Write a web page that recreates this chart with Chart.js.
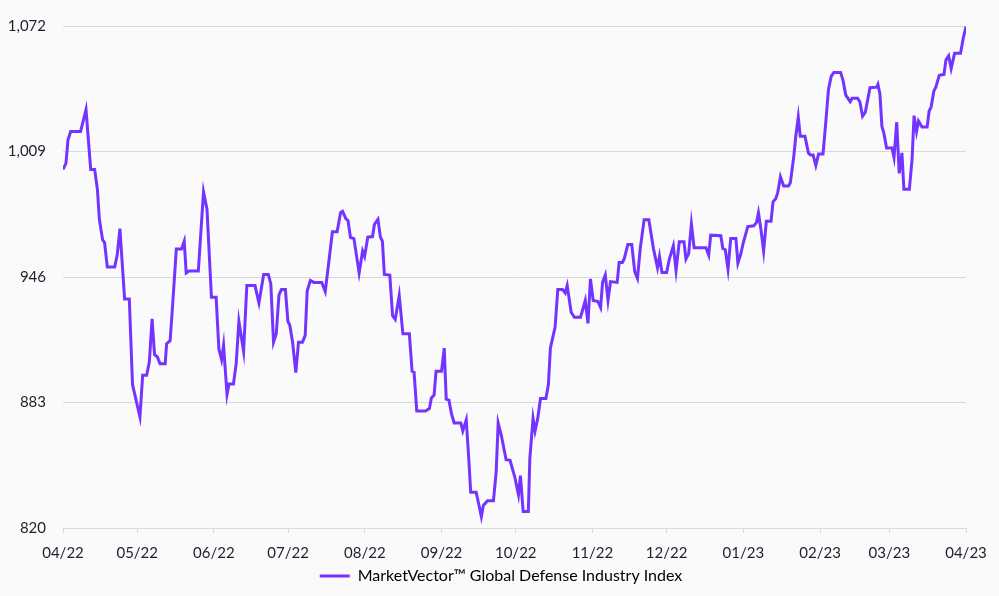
<!DOCTYPE html>
<html>
<head>
<meta charset="utf-8">
<script src="https://cdn.jsdelivr.net/npm/chart.js@4"></script>
<style>
  html, body { margin: 0; padding: 0; background: #fafafa; }
  #wrap { width: 999px; height: 596px; }
</style>
</head>
<body>
<div id="wrap"><canvas id="chart"></canvas></div>
<script>
// day offsets from 2022-04-01 and index level
const days = [
  0, 1.2, 2.0, 3.1, 7.1, 9.3, 11.2, 12.8, 13.9, 14.7, 16.0, 16.8, 17.9, 20.9, 21.9, 23.0,
  24.9, 26.8, 28.1, 29.7, 31.1, 32.2, 33.8, 34.9, 36.0, 37.0, 38.1, 39.2, 41.3, 41.9, 43.3, 44.3,
  45.8, 47.9, 49.0, 49.8, 50.9, 54.7, 56.8, 58.2, 60.0, 61.9, 63.0, 64.1, 64.9, 66.3, 67.1, 68.9,
  70.0, 71.1, 73.0, 74.3, 77.6, 79.2, 81.1, 83.0, 84.0, 85.1, 86.2, 87.3, 88.3, 89.9,
  90.9, 91.7, 92.8, 94.1, 95.2, 96.8, 97.9, 98.7, 100.0, 101.4, 104.6, 106.0, 107.1, 108.9, 110.8,
  112.2, 113.0, 114.3, 115.2, 116.2, 117.6, 119.7, 121.1, 121.9, 123.2, 125.1, 125.9, 127.3, 128.3,
  129.1, 129.9, 132.1, 133.2, 134.3, 135.9,
  137.4, 140.0, 141.1, 141.9, 143.0, 146.5, 148.1, 148.9, 150.0, 150.8, 153.0, 154.1, 154.9, 156.0,
  157.0, 158.1, 160.8, 161.6, 163.0, 164.0, 164.8, 167.0, 168.1, 169.1, 169.9, 171.6, 174.0, 175.1,
  175.9, 177.2, 179.1, 180.7, 182.6,
  184.1, 184.9, 186.0, 188.1, 188.7, 190.0, 190.8, 191.9, 193.0, 195.2, 196.2, 197.0, 198.9, 200.0,
  201.9, 203.0, 203.8, 205.4, 206.7, 209.2, 211.1, 212.2, 213.2, 214.3, 216.2, 217.3, 218.1, 219.2,
  220.3, 221.3, 224.0, 224.8, 226.1, 226.9, 228.3, 229.9,
  231.1, 232.2, 233.3, 234.9, 236.8, 238.7, 240.3, 241.1, 242.1, 244.0, 245.1, 246.7, 247.8, 249.1,
  251.0, 251.8, 252.9, 254.0, 255.1, 259.9, 261.0, 261.8, 265.9, 266.7, 267.7, 268.8, 269.9, 272.0,
  272.8, 273.9, 275.0,
  276.8, 279.2, 280.3, 281.1, 282.1, 283.2, 284.3, 286.2, 287.0, 288.1, 288.9, 290.0, 291.3, 293.2,
  294.0, 295.4, 296.2, 297.2, 298.0, 299.9, 301.3, 302.1, 303.2, 304.3, 305.4, 307.2, 308.3, 309.4,
  310.5, 311.6, 314.3, 315.3, 316.4, 318.2, 319.0, 321.2,
  322.1, 323.2, 324.3, 326.2, 328.9, 329.4, 330.2, 331.0, 331.8, 332.9, 335.1, 335.9, 337.0, 338.0,
  339.1, 339.9, 342.1, 343.2, 344.0, 345.0, 345.8, 347.2, 349.3, 350.1, 350.9, 352.0, 352.8, 354.2,
  356.1, 356.9, 358.0, 359.0, 360.4, 362.8, 363.9, 365.0
];
const values = [
  1000, 1003, 1014.7, 1019, 1019, 1030, 1000, 1000, 990, 975, 964.7, 963.3, 951, 951, 957, 970.3,
  935, 935, 892, 883.3, 875.8, 896.7, 896.7, 903.3, 925, 907, 906, 902.5, 902.5, 912.5, 914, 931.7,
  960, 960, 964, 948, 949, 949, 988.7, 980, 935.8, 935.8, 910, 904.5, 911.7, 887, 892.3, 892.3,
  902.5, 923.7, 908.7, 941.7, 941.7, 933, 947.3, 947.3, 942.5, 913.3, 917.5, 937, 939.7, 939.7,
  923.7, 921.7, 913.3, 898, 913.3, 913.3, 916.7, 939, 944.3, 943.3, 943.3, 938.7, 950, 968.7, 968.7,
  978.3, 979, 975.3, 974.3, 965.8, 965.3, 948, 959, 956.3, 966, 966.3, 972.5, 975, 966,
  964, 947.3, 947, 926.7, 924.7, 936.7,
  917.5, 917.5, 898.7, 898.3, 878.7, 878.7, 880, 885.3, 886.7, 898.7, 898.7, 910.3, 884.7, 884.2,
  877.5, 872.7, 872.7, 868.7, 874.3, 855, 838, 838, 831.7, 825.7, 831.3, 833.7, 833.7, 848.3,
  872.7, 866.3, 854.3, 854, 845.7,
  836.7, 846.3, 828.3, 828.3, 855, 875, 868.7, 875, 885, 885, 892, 910.3, 920.7, 939.7,
  939.7, 938, 941.7, 928.3, 925.8, 925.8, 934.2, 922.7, 945, 934.2, 933.7, 930.7, 943.3, 947,
  934.3, 943.7, 943.3, 953.3, 953.3, 955.3, 962.3, 962.3,
  948.7, 945.3, 960, 974.7, 974.7, 960, 950.7, 956.3, 948.3, 948.3, 955, 961.7, 949.3, 963.7,
  963.7, 955, 957.7, 972.7, 960.7, 960.7, 957, 967, 966.7, 960.3, 959.7, 950, 965.3, 965.3,
  953, 957.3, 963.3,
  971.3, 971.7, 973.3, 978.3, 970, 959, 974, 974, 983.7, 985.3, 988.3, 996.3, 991.7, 991.7,
  993.3, 1006.7, 1016.7, 1026.3, 1016.7, 1016.7, 1008.3, 1007.3, 1007.3, 1002, 1007.7, 1007.7, 1023.3, 1040,
  1046.7, 1048.7, 1048.7, 1044.7, 1037.3, 1034, 1035.7, 1035.7,
  1034, 1026.7, 1028.7, 1041, 1041.3, 1042.7, 1038, 1021.7, 1018.3, 1010.7, 1010.7, 1006, 1023.7, 998,
  1008.3, 990, 990, 1005, 1027, 1019, 1024.3, 1021.3, 1021.3, 1029.3, 1031.3, 1039.3, 1041.3, 1047.3,
  1047.7, 1055, 1057, 1050.7, 1058.3, 1058.3, 1066, 1071.7
];

// month starts (day offsets) and their labels
const monthDays = [0, 30, 61, 91, 122, 153, 183, 214, 244, 275, 306, 334, 365];
const monthLabels = ['04/22', '05/22', '06/22', '07/22', '08/22', '09/22', '10/22',
  '11/22', '12/22', '01/23', '02/23', '03/23', '04/23'];
const yTicks = [820, 883, 946, 1009, 1072];

const seriesName = 'MarketVector\u2122 Global Defense Industry Index';
const lineColor = '#7434ff';
const textColor = '#1f1f2e';
const gridColor = '#d9d9d9';

const points = days.map((d, i) => ({ x: d, y: values[i] }));

// legend is centred on the whole canvas, not just the padded area
const legendShift = {
  id: 'legendShift',
  afterLayout(chart) {
    chart.legend.left += 18;
    chart.legend.right += 18;
  }
};

new Chart(document.getElementById('chart'), {
  type: 'line',
  data: {
    datasets: [{
      label: seriesName,
      data: points,
      borderColor: lineColor,
      backgroundColor: lineColor,
      borderWidth: 3,
      pointRadius: 0,
      tension: 0
    }]
  },
  plugins: [legendShift],
  options: {
    responsive: true,
    maintainAspectRatio: false,
    animation: false,
    layout: { padding: { top: 18, right: 33, bottom: 2, left: 0 } },
    plugins: {
      tooltip: { enabled: false },
      legend: {
        position: 'bottom',
        labels: {
          color: textColor,
          font: { family: 'Lato', size: 16 },
          boxWidth: 30,
          boxHeight: 3,
          padding: 6,
          generateLabels: (chart) => [{
            text: seriesName,
            fillStyle: lineColor,
            strokeStyle: lineColor,
            lineWidth: 0,
            datasetIndex: 0
          }]
        }
      }
    },
    scales: {
      x: {
        type: 'linear',
        min: 0,
        max: 365,
        afterBuildTicks: (scale) => { scale.ticks = monthDays.map(v => ({ value: v })); },
        afterFit: (scale) => { scale.height = 34; },
        ticks: {
          color: textColor,
          font: { family: 'Lato', size: 15 },
          padding: 11,
          maxRotation: 0,
          autoSkip: false,
          callback: (v) => monthLabels[monthDays.indexOf(v)]
        },
        grid: { drawOnChartArea: false, color: gridColor, tickLength: 5 },
        border: { display: true, color: gridColor }
      },
      y: {
        min: 820,
        max: 1072,
        afterBuildTicks: (scale) => { scale.ticks = yTicks.map(v => ({ value: v })); },
        afterFit: (scale) => { scale.width = 63; },
        ticks: {
          color: textColor,
          font: { family: 'Lato', size: 15 },
          padding: 17,
          callback: (v) => v.toLocaleString('en-US')
        },
        grid: { color: gridColor, drawTicks: false },
        border: { display: false }
      }
    }
  }
});
</script>
</body>
</html>
